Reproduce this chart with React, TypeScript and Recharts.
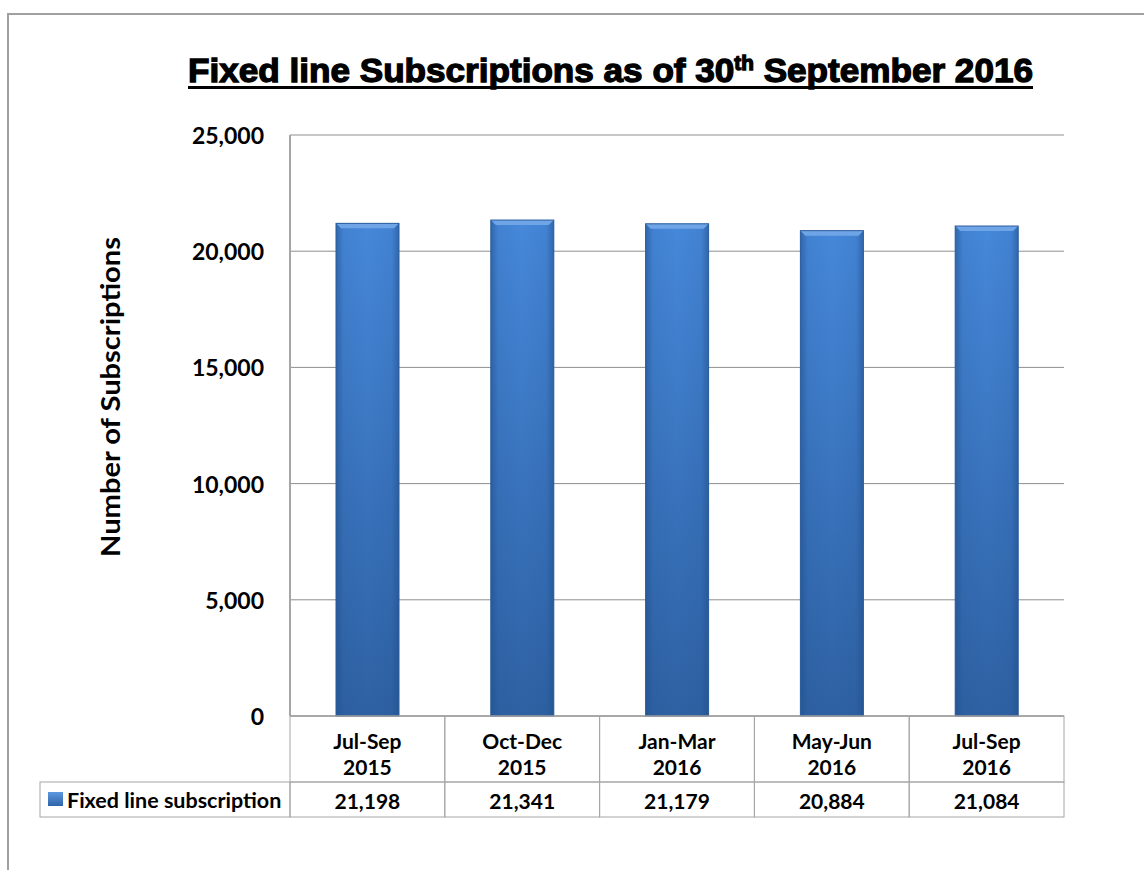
import { BarChart, Bar, XAxis, YAxis, CartesianGrid } from "recharts"

const periods = ["Jul-Sep", "Oct-Dec", "Jan-Mar", "May-Jun", "Jul-Sep"]
const years = ["2015", "2015", "2016", "2016", "2016"]
const subscriptions = [21198, 21341, 21179, 20884, 21084]
const yTicks = [0, 5000, 10000, 15000, 20000, 25000]
const seriesName = "Fixed line subscription"

const data = periods.map((p, i) => ({ key: `${p} ${years[i]}`, value: subscriptions[i] }))

// layout
const W = 1144
const H = 870
const PLOT_LEFT = 290
const PLOT_RIGHT = 1064
const PLOT_TOP = 135
const PLOT_BOTTOM = 716
const BAND = (PLOT_RIGHT - PLOT_LEFT) / periods.length
const ROW1_END = 782
const ROW2_END = 817
const LEGEND_LEFT = 40

const GRID = "#8e8e8e"
const AXIS = "#a6a6a6"
const FONT = "Lato, 'Open Sans', sans-serif"

const fmt = (v: number) => v.toLocaleString("en-US")

function TableTick(props: any) {
  const { x, payload } = props
  const i = payload.index
  const left = x - BAND / 2
  return (
    <g>
      <rect x={left} y={PLOT_BOTTOM} width={BAND} height={ROW1_END - PLOT_BOTTOM} fill="none" stroke={AXIS} />
      <rect x={left} y={ROW1_END} width={BAND} height={ROW2_END - ROW1_END} fill="none" stroke={AXIS} />
      <text x={x} y={740} textAnchor="middle" dominantBaseline="central" fontFamily={FONT} fontWeight={700} fontSize={21} fill="#000">
        {periods[i]}
      </text>
      <text x={x} y={766} textAnchor="middle" dominantBaseline="central" fontFamily={FONT} fontWeight={700} fontSize={21} fill="#000">
        {years[i]}
      </text>
      <text x={x} y={800} textAnchor="middle" dominantBaseline="central" fontFamily={FONT} fontWeight={700} fontSize={21} fill="#000">
        {fmt(subscriptions[i])}
      </text>
      {i === 0 && (
        <g>
          <rect x={LEGEND_LEFT} y={ROW1_END} width={left - LEGEND_LEFT} height={ROW2_END - ROW1_END} fill="none" stroke={AXIS} />
          <defs>
            <linearGradient id="legendSwatch" x1="0" y1="0" x2="0" y2="1">
              <stop offset="0%" stopColor="#5d98e0" />
              <stop offset="100%" stopColor="#2f64a8" />
            </linearGradient>
          </defs>
          <rect x={48} y={792} width={15} height={14} fill="url(#legendSwatch)" />
          <text x={67} y={800} dominantBaseline="central" fontFamily={FONT} fontWeight={700} fontSize={21.5} fill="#000">
            {seriesName}
          </text>
        </g>
      )}
    </g>
  )
}

function ValueTick(props: any) {
  const { x, y, payload } = props
  return (
    <text x={x} y={y} textAnchor="end" dominantBaseline="central" fontFamily={FONT} fontWeight={700} fontSize={23} fill="#000">
      {fmt(payload.value)}
    </text>
  )
}

function BevelBar(props: any) {
  const { x, y, width, height, index } = props
  const b = 5
  const v = `barV${index}`
  const h = `barH${index}`
  return (
    <g>
      <defs>
        <linearGradient id={v} x1="0" y1="0" x2="0" y2="1">
          <stop offset="0%" stopColor="#4688da" />
          <stop offset="100%" stopColor="#2e61a3" />
        </linearGradient>
        <linearGradient id={h} x1="0" y1="0" x2="1" y2="0">
          <stop offset="0%" stopColor="#1f4c87" stopOpacity={0.55} />
          <stop offset="12%" stopColor="#1f4c87" stopOpacity={0.1} />
          <stop offset="50%" stopColor="#1f4c87" stopOpacity={0} />
          <stop offset="88%" stopColor="#1f4c87" stopOpacity={0.1} />
          <stop offset="100%" stopColor="#1f4c87" stopOpacity={0.55} />
        </linearGradient>
      </defs>
      <rect x={x} y={y} width={width} height={height} fill={`url(#${v})`} />
      <rect x={x} y={y} width={width} height={height} fill={`url(#${h})`} />
      <polygon
        points={`${x},${y} ${x + width},${y} ${x + width - b},${y + b} ${x + b},${y + b}`}
        fill="#6fa5e6"
      />
      <rect x={x} y={y} width={width} height={height} fill="none" stroke="#2b5c9c" strokeWidth={1} />
    </g>
  )
}

function YLabel() {
  return (
    <text
      x={109}
      y={397}
      transform="rotate(-90 109 397)"
      textAnchor="middle"
      dominantBaseline="central"
      textLength={320}
      lengthAdjust="spacingAndGlyphs"
      fontFamily={FONT}
      fontWeight={700}
      fontSize={27}
      fill="#000"
    >
      Number of Subscriptions
    </text>
  )
}

export default function App() {
  return (
    <div style={{ position: "absolute", left: 0, top: 0, width: W, height: H, background: "#fff" }}>
      <div
        style={{
          position: "absolute",
          left: 7,
          top: 13,
          width: W - 7,
          height: H - 13,
          borderTop: "2px solid #a0a0a0",
          borderLeft: "2px solid #a0a0a0",
          boxSizing: "border-box",
        }}
      />
      <svg style={{ position: "absolute", left: 0, top: 0 }} width={W} height={110}>
        <text
          x={188}
          y={82}
          textLength={845}
          lengthAdjust="spacingAndGlyphs"
          fontFamily="'Liberation Sans', Arial, sans-serif"
          fontWeight={900}
          fontSize={34}
          fill="#000"
          stroke="#000"
          strokeWidth={1.3}
        >
          Fixed line Subscriptions as of 30
          <tspan fontSize={20} dy={-12}>th</tspan>
          <tspan dy={12}> September 2016</tspan>
        </text>
        <rect x={188} y={86} width={845} height={3} fill="#000" />
      </svg>
      <div style={{ position: "absolute", left: 0, top: 0 }}>
        <BarChart
          width={W}
          height={H}
          data={data}
          margin={{ top: PLOT_TOP, right: W - PLOT_RIGHT, bottom: 0, left: 0 }}
          barCategoryGap={0}
        >
          <CartesianGrid vertical={false} stroke={GRID} />
          <XAxis
            dataKey="key"
            height={H - PLOT_BOTTOM}
            tickLine={false}
            tickSize={0}
            tickMargin={0}
            interval={0}
            axisLine={{ stroke: GRID }}
            tick={<TableTick />}
          />
          <YAxis
            width={PLOT_LEFT}
            domain={[0, 25000]}
            ticks={yTicks}
            tickLine={false}
            tickSize={0}
            tickMargin={26}
            axisLine={{ stroke: AXIS, strokeWidth: 2 }}
            tick={<ValueTick />}
            label={<YLabel />}
          />
          <Bar dataKey="value" name={seriesName} barSize={63} shape={<BevelBar />} isAnimationActive={false} />
        </BarChart>
      </div>
    </div>
  )
}
